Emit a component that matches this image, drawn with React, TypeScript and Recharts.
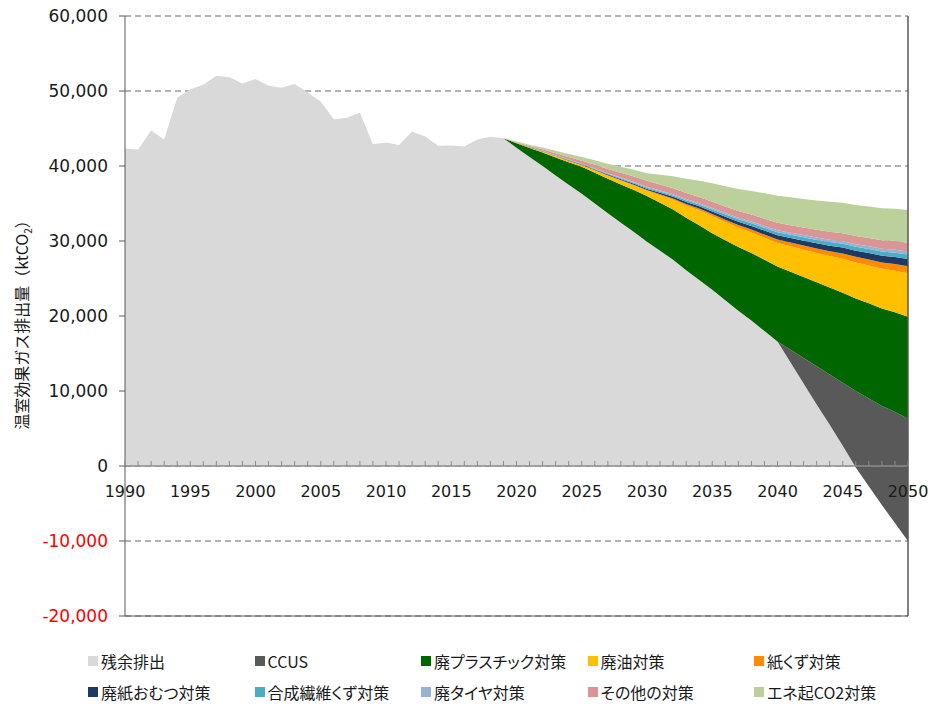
import React from "react";
import {
  AreaChart,
  Area,
  XAxis,
  YAxis,
  CartesianGrid,
  ReferenceLine,
} from "recharts";

// categories
const FIRST_YEAR = 1990;
const LAST_YEAR = 2050;
const PROJECTION_START = 2020;

// 残余排出 1990-2050 (ktCO2)
const residual = [
  42300, 42200, 44750, 43550, 49100, 50250, 50850, 52050, 51850, 51000,
  51600, 50700, 50450, 50950, 49800, 48600, 46250, 46450, 47100, 42900,
  43150, 42800, 44600, 43950, 42700, 42750, 42600, 43550, 43900, 43700,
  42450, 41200, 40000, 38750, 37500, 36300, 35000, 33700, 32450, 31200,
  29900, 28700, 27500, 26100, 24800, 23500, 22100, 20700, 19400, 18000,
  16600, 13800, 11000, 8200, 5500, 2700, -200, -2700, -5200, -7600, -10000,
];

// measures 2020-2050
const ccus = [
  0, 0, 0, 0, 0, 0, 0, 0, 0, 0, 0, 0, 0, 0, 0, 0, 0, 0, 0, 0, 0,
  1700, 3400, 5100, 6700, 8400, 10200, 11700, 13200, 14800, 16300,
];
const plastic = [
  600, 1200, 1800, 2400, 3000, 3600, 4100, 4600, 5100, 5600, 6100, 6400, 6700,
  7000, 7300, 7550, 8000, 8500, 9000, 9500, 10000, 10400, 10800, 11200, 11600,
  12000, 12350, 12700, 13000, 13300, 13600,
];
const wasteOil = [
  30, 60, 100, 130, 170, 200, 300, 400, 500, 600, 700, 1000, 1300, 1650, 2000,
  2300, 2450, 2600, 2750, 2950, 3150, 3400, 3650, 3900, 4200, 4550, 4800, 5050,
  5300, 5550, 5800,
];
const paper = [
  10, 20, 30, 40, 45, 50, 60, 70, 80, 90, 100, 130, 160, 190, 220, 250, 290,
  330, 370, 410, 440, 490, 540, 590, 640, 690, 740, 790, 840, 890, 930,
];
const diaper = [
  10, 20, 30, 40, 45, 50, 70, 90, 110, 130, 150, 190, 230, 270, 310, 350, 400,
  440, 490, 530, 580, 620, 660, 700, 740, 780, 820, 860, 900, 940, 980,
];
const fiber = [
  10, 20, 30, 40, 50, 60, 80, 100, 120, 135, 150, 170, 190, 215, 240, 260, 290,
  320, 345, 370, 400, 420, 440, 460, 480, 500, 515, 530, 550, 565, 580,
];
const tire = [
  10, 20, 30, 40, 45, 50, 65, 80, 100, 115, 130, 140, 150, 160, 170, 180, 200,
  215, 235, 250, 270, 280, 295, 310, 320, 335, 345, 360, 375, 385, 400,
];
const others = [
  70, 140, 200, 270, 330, 400, 480, 560, 640, 720, 800, 810, 820, 830, 840, 850,
  875, 900, 930, 955, 980, 1000, 1020, 1040, 1060, 1080, 1100, 1120, 1140, 1160,
  1180,
];
const energy = [
  90, 170, 260, 340, 420, 500, 600, 700, 800, 900, 1000, 1290, 1580, 1870, 2170,
  2460, 2690, 2920, 3150, 3390, 3620, 3710, 3800, 3890, 3980, 4065, 4130, 4190,
  4260, 4320, 4380,
];

const yTicks = [-20000, -10000, 0, 10000, 20000, 30000, 40000, 50000, 60000];

const series = [
  { key: "residual", name: "残余排出", color: "#D9D9D9", values: null },
  { key: "ccus", name: "CCUS", color: "#595959", values: ccus },
  { key: "plastic", name: "廃プラスチック対策", color: "#006600", values: plastic },
  { key: "wasteOil", name: "廃油対策", color: "#FFC000", values: wasteOil },
  { key: "paper", name: "紙くず対策", color: "#FF8C00", values: paper },
  { key: "diaper", name: "廃紙おむつ対策", color: "#1F3864", values: diaper },
  { key: "fiber", name: "合成繊維くず対策", color: "#4BACC6", values: fiber },
  { key: "tire", name: "廃タイヤ対策", color: "#95B3D7", values: tire },
  { key: "others", name: "その他の対策", color: "#D99694", values: others },
  { key: "energy", name: "エネ起CO2対策", color: "#BBD09A", values: energy },
];

const data: any[] = [];
for (let y = FIRST_YEAR; y <= LAST_YEAR; y++) {
  const row: any = { year: y, residual: residual[y - FIRST_YEAR] };
  series.forEach((s) => {
    if (s.values) {
      row[s.key] = y >= PROJECTION_START ? s.values[y - PROJECTION_START] : 0;
    }
  });
  data.push(row);
}

const W = 929;
const CHART_H = 630;
const MARGIN = { top: 16, right: 21, bottom: 0, left: 0 };
const X_AXIS_H = 14;
const PLOT_H = CHART_H - MARGIN.top - MARGIN.bottom - X_AXIS_H;
const Y_MIN = -20000;
const Y_MAX = 60000;
const ZERO_OFFSET = (PLOT_H * (0 - Y_MIN)) / (Y_MAX - Y_MIN);

const NUM_FONT = "'DejaVu Sans', Verdana, sans-serif";
const JP_FONT = "'Noto Sans CJK JP', 'Noto Sans', sans-serif";
const AXIS_DARK = "#595959";
const ZERO_GRAY = "#8c8c8c";

const XTick = (props: any) => {
  const { x, y, payload } = props;
  const zeroY = y - ZERO_OFFSET;
  const year = Number(payload.value);
  return (
    <g>
      <line x1={x} x2={x} y1={zeroY} y2={zeroY - 5} stroke={ZERO_GRAY} />
      {year % 5 === 0 && (
        <text
          x={x}
          y={zeroY + 31}
          textAnchor="middle"
          fontFamily={NUM_FONT}
          fontSize={16}
          fill="#1a1a1a"
        >
          {year}
        </text>
      )}
    </g>
  );
};

const YTick = (props: any) => {
  const { x, y, payload } = props;
  const v = Number(payload.value);
  return (
    <text
      x={x}
      y={y}
      dy="0.36em"
      textAnchor="end"
      fontFamily={NUM_FONT}
      fontSize={17}
      fill={v < 0 ? "#FF0000" : "#1a1a1a"}
    >
      {v.toLocaleString("en-US")}
    </text>
  );
};

export default function App() {
  return (
    <div
      style={{
        position: "absolute",
        left: 0,
        top: 0,
        width: W,
        height: 705,
        background: "#fff",
        fontFamily: JP_FONT,
      }}
    >
      <AreaChart width={W} height={CHART_H} data={data} margin={MARGIN}>
        <CartesianGrid
          vertical={false}
          stroke="#9a9a9a"
          strokeDasharray="6 4"
          strokeWidth={1.3}
        />
        <XAxis
          dataKey="year"
          type="category"
          interval={0}
          height={X_AXIS_H}
          axisLine={false}
          tickLine={false}
          tickSize={0}
          tickMargin={0}
          tick={<XTick />}
        />
        <YAxis
          width={125}
          domain={[Y_MIN, Y_MAX]}
          ticks={yTicks}
          allowDataOverflow
          axisLine={{ stroke: AXIS_DARK }}
          tickLine={{ stroke: AXIS_DARK }}
          tickSize={6}
          tickMargin={11}
          tick={<YTick />}
        />
        {series.map((s) => (
          <Area
            key={s.key}
            type="linear"
            dataKey={s.key}
            name={s.name}
            stackId="1"
            stroke="none"
            fill={s.color}
            fillOpacity={1}
            dot={false}
            activeDot={false}
            isAnimationActive={false}
          />
        ))}
        <ReferenceLine y={0} stroke={ZERO_GRAY} strokeWidth={1.3} />
        <ReferenceLine y={Y_MIN} stroke={AXIS_DARK} />
        <ReferenceLine x={LAST_YEAR} stroke={AXIS_DARK} strokeWidth={1.5} />
      </AreaChart>

      <div
        style={{
          position: "absolute",
          left: 22,
          top: 321,
          transform: "translate(-50%, -50%) rotate(-90deg)",
          whiteSpace: "nowrap",
          fontSize: 16,
          color: "#1a1a1a",
        }}
      >
        温室効果ガス排出量（ktCO<sub style={{ fontSize: 10 }}>2</sub>）
      </div>

      {series.map((s, i) => {
        const col = i % 5;
        const row = Math.floor(i / 5);
        return (
          <div
            key={s.key}
            style={{
              position: "absolute",
              left: 88 + col * 166.5,
              top: 661 + row * 31,
              transform: "translateY(-50%)",
              display: "flex",
              alignItems: "center",
              whiteSpace: "nowrap",
              fontSize: 16,
              color: "#1a1a1a",
              fontFeatureSettings: '"palt"',
            }}
          >
            <span
              style={{
                display: "inline-block",
                width: 10,
                height: 10,
                background: s.color,
                marginRight: 3,
              }}
            />
            {s.name}
          </div>
        );
      })}
    </div>
  );
}
